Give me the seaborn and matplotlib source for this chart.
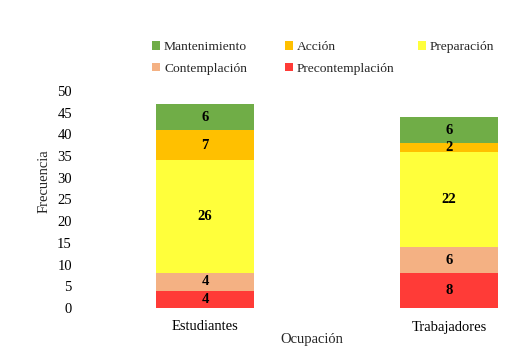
import matplotlib
matplotlib.use("Agg")
import matplotlib.pyplot as plt
import seaborn as sns
import pandas as pd
import numpy as np
from matplotlib.patches import Patch

categories = ["Estudiantes", "Trabajadores"]
series_names = ["Precontemplación", "Contemplación", "Preparación", "Acción", "Mantenimiento"]
precontemplacion = [4, 8]
contemplacion = [4, 6]
preparacion = [26, 22]
accion = [7, 2]
mantenimiento = [6, 6]
colors = ["#FF3B37", "#F4B183", "#FFFF3B", "#FFC000", "#70AD47"]

values = [precontemplacion, contemplacion, preparacion, accion, mantenimiento]

sns.set_style("white")
plt.rcParams["font.family"] = ["Liberation Serif", "DejaVu Serif"]

fig = plt.figure(figsize=(5.14, 3.51), dpi=100)
W, H = 514, 351
left_px, right_px = 83, 510
ax = fig.add_axes([left_px / W, 43 / H, (right_px - left_px) / W, (308 - 91) / H])

cum = np.cumsum(np.array(values), axis=0)
# draw from the top layer downwards so lower layers overlap
for i in range(len(series_names) - 1, -1, -1):
    df = pd.DataFrame({"cat": categories, "val": cum[i]})
    sns.barplot(data=df, x="cat", y="val", color=colors[i], saturation=1,
                width=0.4, ax=ax, linewidth=0, edgecolor="none")

for i in range(len(series_names)):
    for j, c in enumerate(categories):
        base = cum[i][j] - values[i][j]
        ax.text(j, base + values[i][j] / 2, str(values[i][j]), ha="center", va="center",
                fontsize=10.5, fontweight="bold", color="black")

ax.set_ylim(0, 50)
ax.set_yticks(range(0, 51, 5))
ax.set_xlim(-0.5, (right_px - 205) / 244)
for s in ax.spines.values():
    s.set_visible(False)
ax.tick_params(axis="both", length=0, labelsize=10.5, colors="black")
ax.tick_params(axis="y", pad=8)
ax.tick_params(axis="x", pad=9)
ax.set_xlabel("Ocupación", fontsize=10.5)
ax.set_ylabel("Frecuencia", fontsize=10.5)
ax.xaxis.set_label_coords((312 - left_px) / (right_px - left_px), -0.115)
ax.yaxis.set_label_coords((51 - left_px) / (right_px - left_px), (308 - 181) / (308 - 91))

legkw = dict(frameon=False, fontsize=9.7, handlelength=0.6, handleheight=0.6,
             handletextpad=0.3, labelspacing=0.72, borderaxespad=0, borderpad=0,
             loc="upper left")
columns = [([4, 1], 152), ([3, 0], 285), ([2], 418)]
for idx, xpx in columns:
    hs = [Patch(facecolor=colors[k], edgecolor="none", label=series_names[k]) for k in idx]
    fig.legend(handles=hs, ncol=1, bbox_to_anchor=(xpx / W, 1 - 41 / H), **legkw)

fig.savefig("out.png", dpi=100)
